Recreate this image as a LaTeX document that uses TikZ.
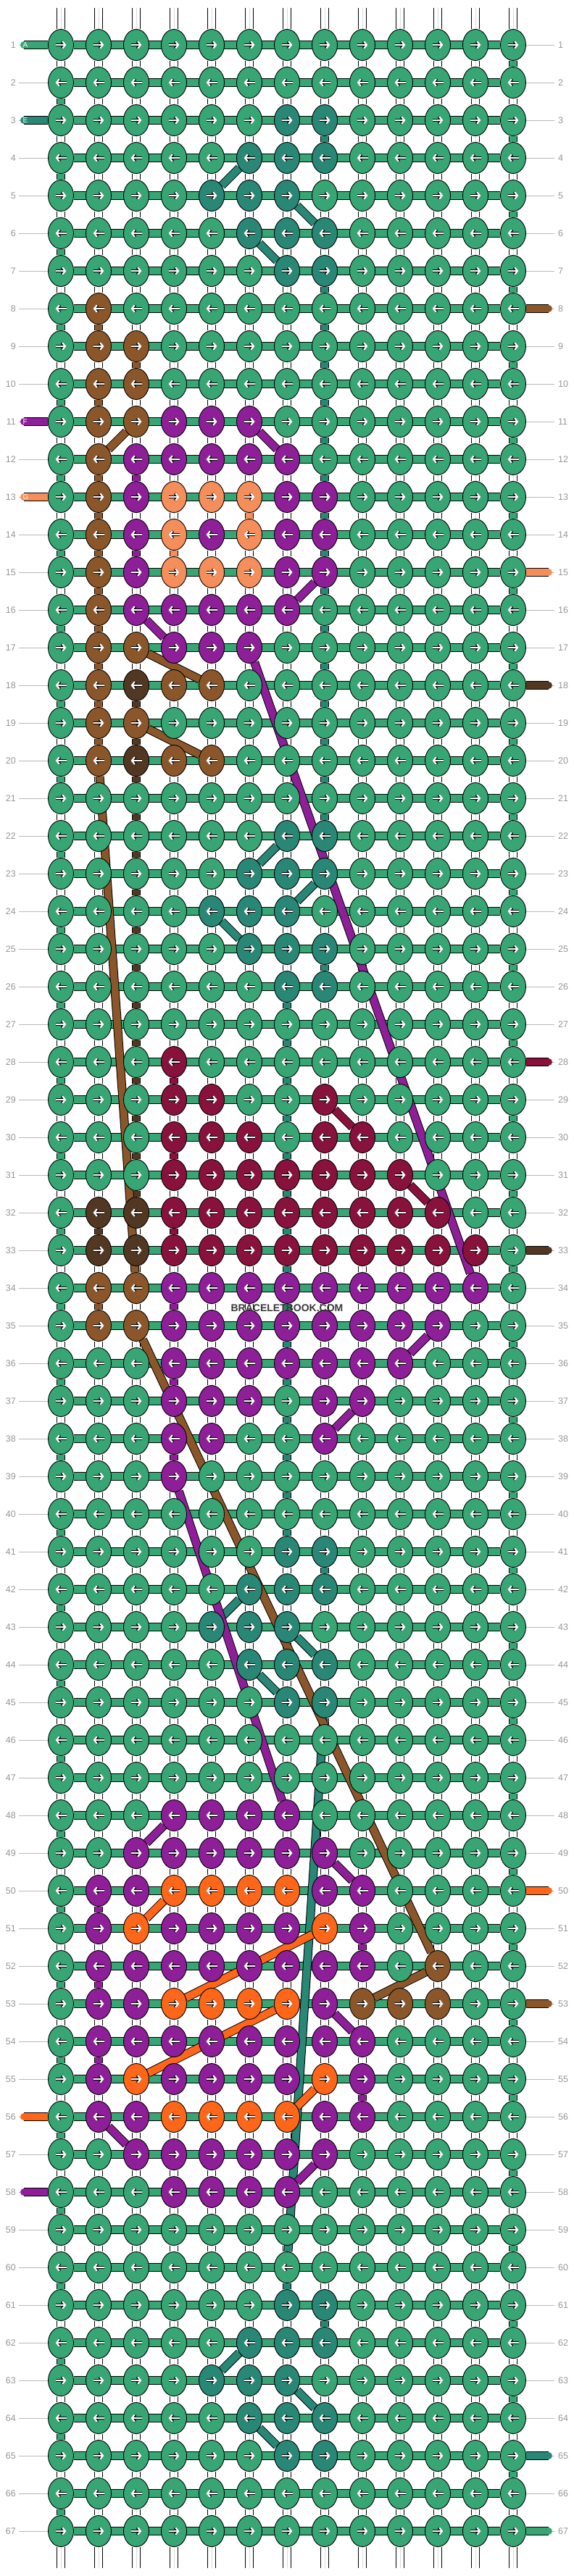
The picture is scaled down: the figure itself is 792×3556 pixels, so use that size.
\documentclass[tikz,border=0pt]{standalone}
\usepackage{fontspec}
\setmainfont{Liberation Sans}
\usetikzlibrary{shapes.geometric, arrows.meta, backgrounds}

\definecolor{cgreen}{RGB}{55,166,116}
\definecolor{cteal}{RGB}{40,135,117}
\definecolor{cbrown}{RGB}{139,87,42}
\definecolor{cdark}{RGB}{82,56,34}
\definecolor{cpurple}{RGB}{142,31,153}
\definecolor{cpeach}{RGB}{245,142,90}
\definecolor{cwine}{RGB}{136,18,60}
\definecolor{corange}{RGB}{254,102,26}
\definecolor{numgray}{RGB}{150,150,150}

\tikzset{
  knot/.style={ellipse, draw=black, line width=0.9pt, minimum width=35pt, minimum height=43pt, inner sep=0pt},
  fwd/.style={draw=white, line width=2.2pt, -{Straight Barb[length=4pt,width=10pt]},
    preaction={draw=black, line width=3.6pt}},
  cord/.style={draw=#1, line width=10pt, preaction={draw=black, line width=12pt}},
  strand/.style={draw=white, line width=10.4pt, preaction={draw=black, line width=12pt},
    postaction={draw=gray!28, line width=0.7pt}},
  guide/.style={draw=gray!55, line width=0.9pt},
  rownum/.style={text=numgray, font=\fontsize{12.5}{13}\selectfont, inner sep=0pt},
  stublabel/.style={text=white, font=\fontsize{10}{11}\selectfont, inner sep=0pt, anchor=west},
  watermark/.style={text=black!78, font=\fontsize{14}{15}\selectfont\bfseries, inner sep=1pt},
}

% knot colours that differ from the background
\newcommand{\paint}[3]{%
  \foreach \c in {#2}{\expandafter\xdef\csname kc-#1-\c\endcsname{#3}}}

% first motif
\paint{3}{7,8}{cteal}
\paint{4}{6,7,8}{cteal}
\paint{5}{5,6,7}{cteal}
\paint{6}{6,7,8}{cteal}
\paint{7}{7,8}{cteal}
% brown / purple flower
\paint{8}{2}{cbrown}
\paint{9}{2,3}{cbrown}
\paint{10}{2,3}{cbrown}
\paint{11}{2,3}{cbrown} \paint{11}{4,5,6}{cpurple}
\paint{12}{2}{cbrown} \paint{12}{3,...,7}{cpurple}
\paint{13}{2}{cbrown} \paint{13}{3,7,8}{cpurple} \paint{13}{4,5,6}{cpeach}
\paint{14}{2}{cbrown} \paint{14}{3,5,7,8}{cpurple} \paint{14}{4,6}{cpeach}
\paint{15}{2}{cbrown} \paint{15}{3,7,8}{cpurple} \paint{15}{4,5,6}{cpeach}
\paint{16}{2}{cbrown} \paint{16}{3,...,7}{cpurple}
\paint{17}{2,3}{cbrown} \paint{17}{4,5,6}{cpurple}
\paint{18}{2,4,5}{cbrown} \paint{18}{3}{cdark}
\paint{19}{2,3}{cbrown}
\paint{20}{2,4,5}{cbrown} \paint{20}{3}{cdark}
% second motif
\paint{22}{7,8}{cteal}
\paint{23}{6,7,8}{cteal}
\paint{24}{5,6,7}{cteal}
\paint{25}{6,7,8}{cteal}
\paint{26}{7,8}{cteal}
% wine / purple block
\paint{28}{4}{cwine}
\paint{29}{4,5,8}{cwine}
\paint{30}{4,5,6,8,9}{cwine}
\paint{31}{4,...,10}{cwine}
\paint{32}{2,3}{cdark} \paint{32}{4,...,11}{cwine}
\paint{33}{2,3}{cdark} \paint{33}{4,...,12}{cwine}
\paint{34}{2,3}{cbrown} \paint{34}{4,...,12}{cpurple}
\paint{35}{2,3}{cbrown} \paint{35}{4,...,11}{cpurple}
\paint{36}{4,...,10}{cpurple}
\paint{37}{4,5,6,8,9}{cpurple}
\paint{38}{4,5,8}{cpurple}
\paint{39}{4}{cpurple}
% third motif
\paint{41}{7,8}{cteal}
\paint{42}{6,7,8}{cteal}
\paint{43}{5,6,7}{cteal}
\paint{44}{6,7,8}{cteal}
\paint{45}{7,8}{cteal}
% purple / orange block
\paint{48}{4,...,7}{cpurple}
\paint{49}{3,...,8}{cpurple}
\paint{50}{2,3,8,9}{cpurple} \paint{50}{4,...,7}{corange}
\paint{51}{2,4,5,6,7,9}{cpurple} \paint{51}{3,8}{corange}
\paint{52}{2,...,9}{cpurple} \paint{52}{11}{cbrown}
\paint{53}{2,3,8}{cpurple} \paint{53}{4,...,7}{corange} \paint{53}{9,10,11}{cbrown}
\paint{54}{2,...,9}{cpurple}
\paint{55}{2,4,5,6,7,9}{cpurple} \paint{55}{3,8}{corange}
\paint{56}{2,3,8,9}{cpurple} \paint{56}{4,...,7}{corange}
\paint{57}{3,...,8}{cpurple}
\paint{58}{4,...,7}{cpurple}
% fourth motif
\paint{61}{7,8}{cteal}
\paint{62}{6,7,8}{cteal}
\paint{63}{5,6,7}{cteal}
\paint{64}{6,7,8}{cteal}
\paint{65}{7,8}{cteal}

\begin{document}
\begin{tikzpicture}[x=1pt, y=-1pt]
  \useasboundingbox (0,0) rectangle (792,3556);

  % knots
  \foreach \r in {1,...,67}{
    \foreach \c in {1,...,13}{
      \ifcsname kc-\r-\c\endcsname
        \edef\kcol{\csname kc-\r-\c\endcsname}%
      \else
        \def\kcol{cgreen}%
      \fi
      \node[knot, fill=\kcol] (k-\r-\c) at ({84+52*(\c-1)}, {62+52*(\r-1)}) {};
      \ifodd\r\relax
        \draw[fwd] ([xshift=-7.5pt]k-\r-\c.center) -- ([xshift=7.5pt]k-\r-\c.center);
      \else
        \draw[fwd] ([xshift=7.5pt]k-\r-\c.center) -- ([xshift=-7.5pt]k-\r-\c.center);
      \fi
    }
  }

  \begin{pgfonlayer}{background}
    % loose ends of the core strings
    \foreach \c in {1,...,13}{
      \coordinate (top-\c) at ({84+52*(\c-1)}, 11);
      \coordinate (bot-\c) at ({84+52*(\c-1)}, 3545);
      \draw[strand, line cap=round] (top-\c) -- (k-1-\c);
      \draw[strand, line cap=round] (k-67-\c) -- (bot-\c);
    }

    % core strings between rows
    \foreach \r [evaluate=\r as \s using int(\r+1)] in {1,...,66}{
      \foreach \c in {1,...,13}
        \draw[strand] (k-\r-\c) -- (k-\s-\c);
    }

    % working thread turning at the edges
    \foreach \r [evaluate=\r as \s using int(\r+1)] in {1,...,66}{
      \ifodd\r\relax \def\c{13}\else \def\c{1}\fi
      \draw[cord=cgreen] (k-\r-\c) -- (k-\s-\c);
    }

    % coloured strings hanging down a column
    \foreach \c/\a/\b/\col in {8/3/3/cteal, 8/7/21/cteal, 8/25/25/cteal, 7/26/40/cteal,
        8/41/41/cteal, 7/60/60/cteal, 8/61/61/cteal,
        2/8/8/cbrown, 3/9/9/cbrown, 2/10/10/cbrown, 2/12/19/cbrown, 2/34/34/cbrown,
        3/18/31/cdark, 2/32/32/cdark,
        3/12/12/cpurple, 3/14/14/cpurple, 4/34/34/cpurple, 4/36/36/cpurple, 4/38/38/cpurple,
        2/50/50/cpurple, 2/52/52/cpurple, 2/54/54/cpurple, 9/51/51/cpurple, 9/55/55/cpurple,
        6/13/13/cpeach, 4/14/14/cpeach,
        4/28/28/cwine, 4/30/30/cwine, 4/32/32/cwine}{
      \foreach \r [evaluate=\r as \s using int(\r+1)] in {\a,...,\b}
        \draw[cord=\col] (k-\r-\c) -- (k-\s-\c);
    }

    % row guides and working thread
    \foreach \r in {1,...,67}{
      \coordinate (lg-\r) at (26, {62+52*(\r-1)});
      \coordinate (rg-\r) at (765, {62+52*(\r-1)});
      \draw[guide] (lg-\r) -- (k-\r-1);
      \draw[guide] (k-\r-13) -- (rg-\r);
      \draw[cord=cgreen] (k-\r-1) -- (k-\r-13);
    }

    % strings coming in and going out at the sides
    \foreach \r/\col in {1/cgreen, 3/cteal, 11/cpurple, 13/cpeach, 56/corange, 58/cpurple}{
      \coordinate (ls-\r) at (33, {62+52*(\r-1)});
      \draw[cord=\col, line cap=round] (ls-\r) -- (k-\r-1);
    }
    \foreach \r/\col in {8/cbrown, 15/cpeach, 18/cdark, 28/cwine, 33/cdark, 50/corange,
        53/cbrown, 65/cteal, 67/cgreen}{
      \coordinate (rs-\r) at (757, {62+52*(\r-1)});
      \draw[cord=\col, line cap=round] (k-\r-13) -- (rs-\r);
    }

    % strings crossing over to another column
    \foreach \a/\b/\c/\d/\col in {4/6/5/5/cteal, 5/7/6/8/cteal, 6/6/7/7/cteal,
        22/7/23/6/cteal, 23/8/24/7/cteal, 24/5/25/6/cteal,
        42/6/43/5/cteal, 43/7/44/8/cteal, 44/6/45/7/cteal, 45/8/60/7/cteal,
        62/6/63/5/cteal, 63/7/64/8/cteal, 64/6/65/7/cteal,
        11/3/12/2/cbrown, 17/3/18/5/cbrown, 19/3/20/5/cbrown, 20/2/34/3/cbrown,
        35/3/52/11/cbrown, 52/11/53/9/cbrown,
        11/6/12/7/cpurple, 15/8/16/7/cpurple, 16/3/17/4/cpurple, 17/6/34/12/cpurple,
        35/11/36/10/cpurple, 37/9/38/8/cpurple, 39/4/48/7/cpurple, 48/4/49/3/cpurple,
        49/8/50/9/cpurple, 53/8/54/9/cpurple, 56/2/57/3/cpurple, 57/8/58/7/cpurple,
        29/8/30/9/cwine, 31/10/32/11/cwine,
        50/4/51/3/corange, 51/8/53/4/corange, 53/7/55/3/corange, 55/8/56/7/corange}{
      \draw[cord=\col] (k-\a-\b) -- (k-\c-\d);
    }
  \end{pgfonlayer}

  % string letters
  \foreach \r/\t in {1/A, 3/E, 11/F, 13/G}
    \node[stublabel] (lt-\r) at (31.5, {62+52*(\r-1)}) {\t};

  % row numbers
  \foreach \r in {1,...,67}{
    \node[rownum, anchor=east] (ln-\r) at (22, {62+52*(\r-1)}) {\r};
    \node[rownum, anchor=west] (rn-\r) at (770, {62+52*(\r-1)}) {\r};
  }

  \node[watermark] (wm) at (396, 1806) {BRACELETBOOK.COM};
\end{tikzpicture}
\end{document}
